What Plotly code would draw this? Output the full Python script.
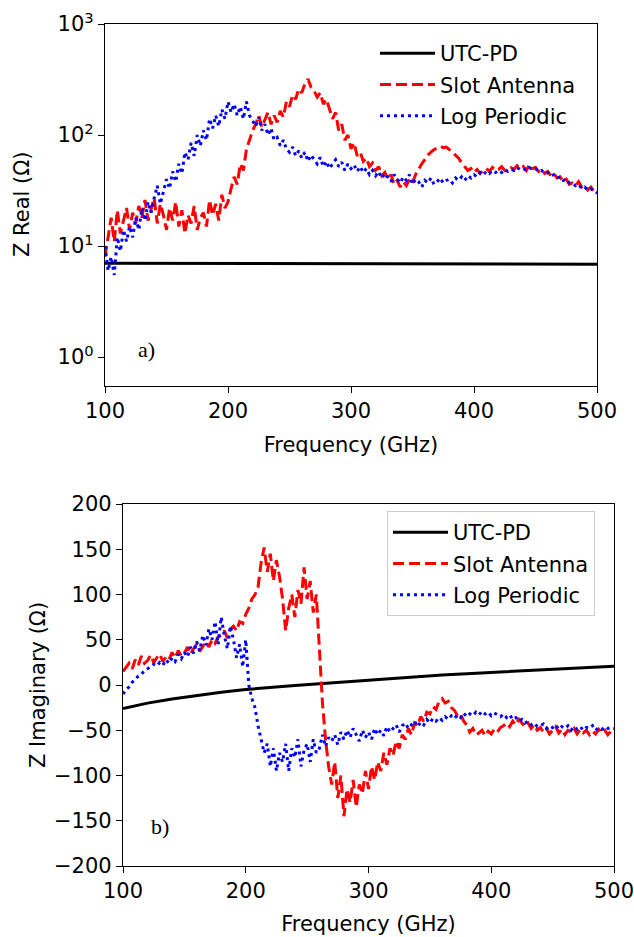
import plotly.graph_objects as go

# frequency grid (GHz), 2.5 GHz spacing
freq = [100 + 2.5 * i for i in range(161)]

slot_real = [8, 12, 18, 11, 21, 13, 17, 22, 14, 20, 16, 23, 18, 26, 17, 22, 27, 16, 24, 19,
             14, 22, 17, 25, 15, 21, 13, 19, 16, 23, 14, 18, 20, 15, 26, 19, 24, 17, 29, 22,
             25, 33, 42, 36, 55, 48, 75, 90, 110, 125, 150, 118, 140, 160, 125, 150, 130, 165, 145, 200,
             180, 230, 210, 260, 240, 290, 320, 270, 250, 220, 240, 190, 210, 170, 140, 160, 110, 125, 90, 100,
             75, 85, 65, 70, 58, 62, 52, 56, 48, 52, 43, 46, 40, 44, 36, 39, 34, 38, 35, 40,
             37, 44, 50, 55, 60, 66, 70, 74, 76, 79, 77, 78, 74, 70, 66, 62, 56, 52, 48, 50,
             46, 49, 45, 48, 50, 47, 51, 48, 49, 52, 48, 50, 51, 49, 53, 50, 52, 48, 54, 50,
             51, 47, 49, 45, 47, 43, 45, 41, 42, 38, 40, 36, 37, 35, 38, 34, 35, 32, 34, 31, 31]

lp_real = [10, 6, 8, 5.5, 12, 9, 14, 11, 15, 12, 18, 14, 22, 17, 25, 20, 27, 35, 24, 31,
           40, 33, 47, 38, 55, 45, 70, 60, 85, 65, 100, 80, 110, 90, 140, 115, 150, 120, 170, 140,
           200, 160, 190, 150, 180, 140, 200, 150, 135, 120, 145, 110, 125, 100, 115, 90, 95, 80, 90, 75,
           70, 78, 65, 72, 62, 70, 58, 66, 60, 55, 63, 52, 58, 50, 55, 60, 52, 57, 48, 55,
           50, 54, 47, 52, 46, 50, 44, 48, 43, 47, 41, 45, 42, 38, 44, 40, 37, 42, 39, 44,
           36, 40, 38, 34, 39, 37, 41, 36, 38, 41, 37, 39, 40, 37, 41, 39, 42, 39, 43, 41,
           44, 42, 46, 44, 47, 45, 48, 46, 48, 46, 49, 47, 49, 48, 51, 49, 50, 48, 51, 49,
           50, 47, 48, 45, 46, 43, 44, 41, 42, 39, 40, 37, 37, 35, 36, 33, 34, 32, 33, 31, 30]

utc_freq = [100, 150, 200, 250, 300, 350, 400, 450, 500]
utc_real = [7.0, 6.97, 6.94, 6.92, 6.9, 6.89, 6.88, 6.87, 6.86]

slot_imag = [15, 20, 24, 18, 28, 22, 32, 24, 27, 33, 25, 30, 34, 26, 31, 28, 36, 30, 38, 32,
             35, 42, 34, 40, 45, 37, 43, 48, 42, 50, 46, 53, 55, 60, 52, 62, 65, 60, 70, 68,
             78, 85, 95, 100, 108, 135, 152, 125, 145, 115, 138, 120, 95, 60, 85, 100, 75, 105, 90, 130,
             95, 115, 80, 100, 40, -20, -60, -90, -110, -85, -125, -100, -145, -115, -130, -105, -135, -110, -120, -95,
             -115, -90, -105, -85, -95, -75, -88, -70, -78, -62, -70, -55, -60, -48, -55, -42, -45, -35, -40, -30,
             -32, -24, -27, -18, -15, -20, -18, -25, -28, -34, -32, -40, -44, -52, -48, -55, -53, -50, -56, -51,
             -54, -49, -52, -47, -45, -42, -46, -40, -44, -38, -42, -46, -42, -48, -44, -50, -47, -52, -48, -54,
             -50, -46, -53, -49, -55, -50, -52, -48, -54, -49, -53, -50, -55, -51, -54, -49, -53, -50, -55, -51, -50]

lp_imag = [-10, -5, -2, 3, 6, 10, 12, 16, 18, 20, 23, 21, 25, 22, 28, 24, 30, 26, 34, 29,
           36, 31, 42, 35, 48, 38, 55, 44, 62, 50, 70, 45, 75, 55, 40, 65, 50, 30, 45, 20,
           50, 0, -15, -25, -45, -60, -75, -65, -90, -70, -95, -75, -85, -65, -95, -70, -80, -60, -90, -72,
           -65, -85, -60, -75, -70, -55, -68, -58, -62, -55, -66, -52, -60, -50, -58, -48, -56, -62, -50, -58,
           -52, -60, -48, -55, -50, -56, -46, -52, -48, -44, -52, -45, -42, -48, -44, -40, -46, -41, -44, -38,
           -42, -37, -40, -36, -39, -35, -38, -34, -37, -33, -36, -31, -35, -32, -34, -30, -33, -29, -32, -30,
           -34, -31, -33, -35, -32, -36, -33, -38, -36, -40, -38, -42, -40, -44, -42, -46, -45, -43, -48, -45,
           -47, -44, -49, -46, -48, -45, -50, -46, -49, -46, -50, -47, -48, -45, -50, -47, -49, -46, -48, -47, -48]

utc_imag_freq = [100, 120, 140, 160, 180, 200, 220, 240, 260, 280, 300, 320, 340, 360, 380, 400, 420, 440, 460, 480, 500]
utc_imag = [-26, -20, -15.5, -11.5, -8, -5, -2.5, -0.5, 1.5, 3.5, 5.5, 7.5, 9.5, 11, 12.5, 14, 15.5, 17, 18.3, 19.5, 20.7]

names = ["UTC-PD", "Slot Antenna", "Log Periodic"]
ytitle_top = "Z Real (Ω)"
ytitle_bottom = "Z Imaginary (Ω)"
xtitle = "Frequency (GHz)"

# body margin is removed below, so positions are window pixels
W, H = 634, 937
FONT = "DejaVu Sans"
FS = 21


def px(v):
    return v / W


def py(v):
    return 1 - v / H


fig = go.Figure()

lw = 3
styles = [dict(color="black", width=lw),
          dict(color="red", width=lw, dash="11px,5px"),
          dict(color="blue", width=lw, dash="3px,4px")]

for i, (xs, ys) in enumerate([(utc_freq, utc_real), (freq, slot_real), (freq, lp_real)]):
    fig.add_trace(go.Scatter(x=xs, y=ys, mode="lines", name=names[i], line=styles[i],
                             xaxis="x", yaxis="y", legend="legend", legendgroup="a%d" % i))
for i, (xs, ys) in enumerate([(utc_imag_freq, utc_imag), (freq, slot_imag), (freq, lp_imag)]):
    fig.add_trace(go.Scatter(x=xs, y=ys, mode="lines", name=names[i], line=styles[i],
                             xaxis="x2", yaxis="y2", legend="legend2", legendgroup="b%d" % i))

axis_common = dict(showline=True, linecolor="black", linewidth=1.3, mirror=True,
                   ticks="outside", ticklen=6, tickwidth=1.3, tickcolor="black",
                   showgrid=False, zeroline=False, automargin=False,
                   ticklabeloverflow="allow",
                   tickfont=dict(family=FONT, size=FS, color="black"))

fig.update_layout(
    width=W, height=H,
    margin=dict(l=0, r=0, t=0, b=0),
    paper_bgcolor="white", plot_bgcolor="white",
    font=dict(family=FONT, size=FS, color="black"),
    xaxis=dict(domain=[px(105), px(597)], range=[100, 500], tickvals=[100, 200, 300, 400, 500],
               title=dict(text=xtitle, standoff=14, font=dict(family=FONT, size=FS)),
               anchor="y", **axis_common),
    yaxis=dict(domain=[py(386), py(24)], type="log", range=[-0.26, 3],
               tickvals=[1, 10, 100, 1000],
               ticktext=["10<sup>0</sup>", "10<sup>1</sup>", "10<sup>2</sup>", "10<sup>3</sup>"],
               anchor="x", **axis_common),
    xaxis2=dict(domain=[px(123), px(614)], range=[100, 500], tickvals=[100, 200, 300, 400, 500],
                title=dict(text=xtitle, standoff=13, font=dict(family=FONT, size=FS)),
                anchor="y2", **axis_common),
    yaxis2=dict(domain=[py(866), py(504)], range=[-200, 200], dtick=50,
                tickformat="d",
                anchor="x2", **axis_common),
    legend=dict(x=px(375), y=py(33), xanchor="left", yanchor="top",
                bgcolor="rgba(255,255,255,0)", borderwidth=0,
                font=dict(family=FONT, size=FS, color="black"), tracegroupgap=1,
                itemwidth=55),
    legend2=dict(x=px(387), y=py(511), xanchor="left", yanchor="top",
                 bgcolor="rgba(255,255,255,0.8)", bordercolor="#cccccc", borderwidth=1,
                 font=dict(family=FONT, size=FS, color="black"), tracegroupgap=1,
                 itemwidth=55),
    annotations=[
        dict(text=ytitle_top, x=px(22), y=py(205), xref="paper", yref="paper", showarrow=False,
             textangle=-90, xanchor="center", yanchor="middle",
             font=dict(family=FONT, size=FS, color="black")),
        dict(text=ytitle_bottom, x=px(38), y=py(685), xref="paper", yref="paper", showarrow=False,
             textangle=-90, xanchor="center", yanchor="middle",
             font=dict(family=FONT, size=FS, color="black")),
        dict(text="a)", x=134, y=0.07, xref="x", yref="y", showarrow=False,
             font=dict(family="Liberation Serif", size=22, color="black")),
        dict(text="b)", x=130, y=-156, xref="x2", yref="y2", showarrow=False,
             font=dict(family="Liberation Serif", size=22, color="black")),
    ],
)

fig.write_html("out.html", default_width="%dpx" % W, default_height="%dpx" % H,
               config={"displayModeBar": False},
               post_script="document.body.style.margin='0';document.body.style.overflow='hidden';")
